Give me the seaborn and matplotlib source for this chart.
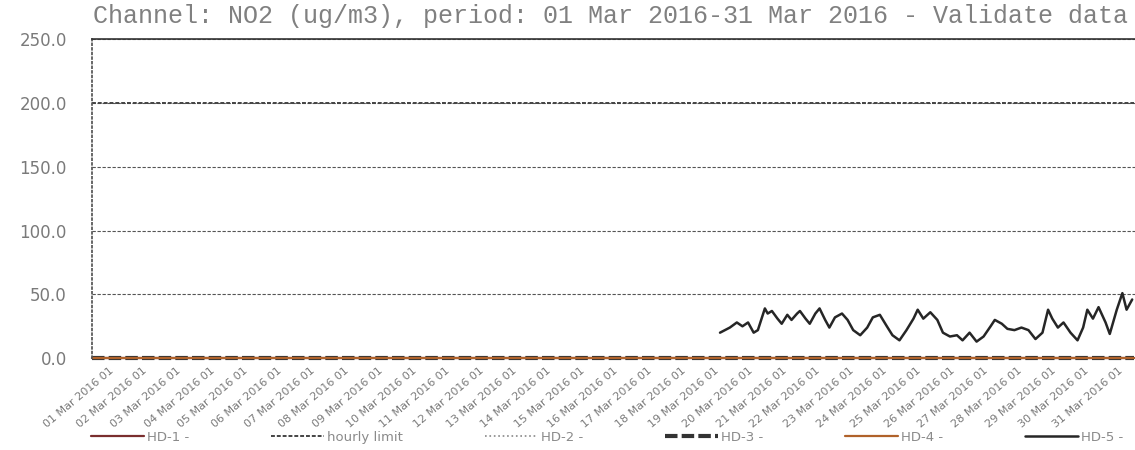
import numpy as np
import pandas as pd
import matplotlib
matplotlib.use("Agg")
import matplotlib.pyplot as plt
import seaborn as sns
sns.set_theme(style="white")
plt.rcParams['font.family'] = ['DejaVu Sans']

### Data
title = "Channel: NO2 (ug/m3), period: 01 Mar 2016-31 Mar 2016 - Validate data"
days = ["%02d" % d for d in range(1, 32)]
day_labels = [d + " Mar 2016 01" for d in days]
y_ticks = [0, 50, 100, 150, 200, 250]

# hour offsets from 01 Mar 2016 00:00 and NO2 values for HD-5
hd5_hours = [448, 455, 460, 464, 468, 472, 475, 480, 482, 485, 489, 492, 496, 499,
             503, 505, 509, 512, 516, 519, 523, 526, 530, 535, 539, 543, 548, 553,
             557, 562, 567, 571, 576, 581, 586, 589, 593, 598, 603, 607, 612, 617,
             621, 626, 631, 636, 641, 644, 649, 653, 658, 663, 668, 673, 678, 682,
             685, 689, 693, 698, 703, 707, 710, 714, 718, 723, 726, 731, 735, 738, 742]
hd5_vals = [20, 24, 28, 25, 28, 20, 22, 39, 35, 37, 31, 27, 34, 30,
            35, 37, 31, 27, 35, 39, 30, 24, 32, 35, 30, 22, 18, 24,
            32, 34, 25, 18, 14, 22, 31, 38, 31, 36, 30, 20, 17, 18,
            14, 20, 13, 17, 25, 30, 27, 23, 22, 24, 22, 15, 20, 38,
            31, 24, 28, 20, 14, 24, 38, 31, 40, 28, 19, 38, 51, 38, 46]

# the other stations are flat at zero, limit is flat at 200
span_hours = [0, 743]
hd1_vals = [0.0, 0.0]
hd2_vals = [0.0, 0.0]
hd3_vals = [0.0, 0.0]
hd4_vals = [0.0, 0.0]
limit_vals = [200.0, 200.0]

fig = plt.figure(figsize=(11.35, 4.5), dpi=100)
ax = fig.add_axes([0.081, 0.204, 0.919, 0.709])

grey = "#7a7a7a"
ax.set_xlim(0, 744)
ax.set_ylim(0, 250)
ax.set_yticks(y_ticks)
ax.set_yticklabels(["%.1f" % v for v in y_ticks], color=grey, fontsize=12)
ax.set_xticks(np.arange(len(days)) * 24 + 12)
ax.set_xticklabels(day_labels, rotation=40, ha="right", rotation_mode="anchor",
                   color=grey, fontsize=8)
ax.tick_params(axis="both", length=0, pad=5)
ax.tick_params(axis="y", pad=18)
ax.yaxis.grid(True, color="#555555", linestyle=(0, (3, 1.5)), linewidth=0.8)

for s in ["right", "bottom"]:
    ax.spines[s].set_visible(False)
ax.spines["left"].set_linestyle(":")
ax.spines["left"].set_color("#555555")
ax.spines["top"].set_color("#333333")
ax.spines["top"].set_linewidth(1.2)

sns.lineplot(x=span_hours, y=hd1_vals, ax=ax, color="#7a2e2e", lw=1.6, label="HD-1 -")
sns.lineplot(x=span_hours, y=limit_vals, ax=ax, color="#444444", lw=1.4,
             linestyle=(0, (2, 1)), label="hourly limit")
sns.lineplot(x=span_hours, y=hd2_vals, ax=ax, color="#888888", lw=1.2,
             linestyle=":", label="HD-2 -")
sns.lineplot(x=span_hours, y=hd3_vals, ax=ax, color="#333333", lw=3.0,
             linestyle=(0, (3, 1)), label="HD-3 -")
sns.lineplot(x=span_hours, y=hd4_vals, ax=ax, color="#b0622a", lw=1.6, label="HD-4 -")
sns.lineplot(x=hd5_hours, y=hd5_vals, ax=ax, color="#262626", lw=1.8, label="HD-5 -")
for ln in ax.lines:
    ln.set_clip_on(False)

ax.set_xlabel("")
ax.set_ylabel("")
h, l = ax.get_legend_handles_labels()
ax.get_legend().remove()
leg = fig.legend(h, l, loc="lower left", bbox_to_anchor=(0.07, -0.012, 0.93, 0.06),
                 mode="expand", ncol=6, frameon=False, fontsize=9.5,
                 handlelength=4, handletextpad=0.2)
for t in leg.get_texts():
    t.set_color("#8a8a8a")

fig.text(0.082, 0.965, title, color="#808080", fontsize=18, va="center", ha="left",
         family="Liberation Mono")

fig.savefig("out.png", dpi=100)
